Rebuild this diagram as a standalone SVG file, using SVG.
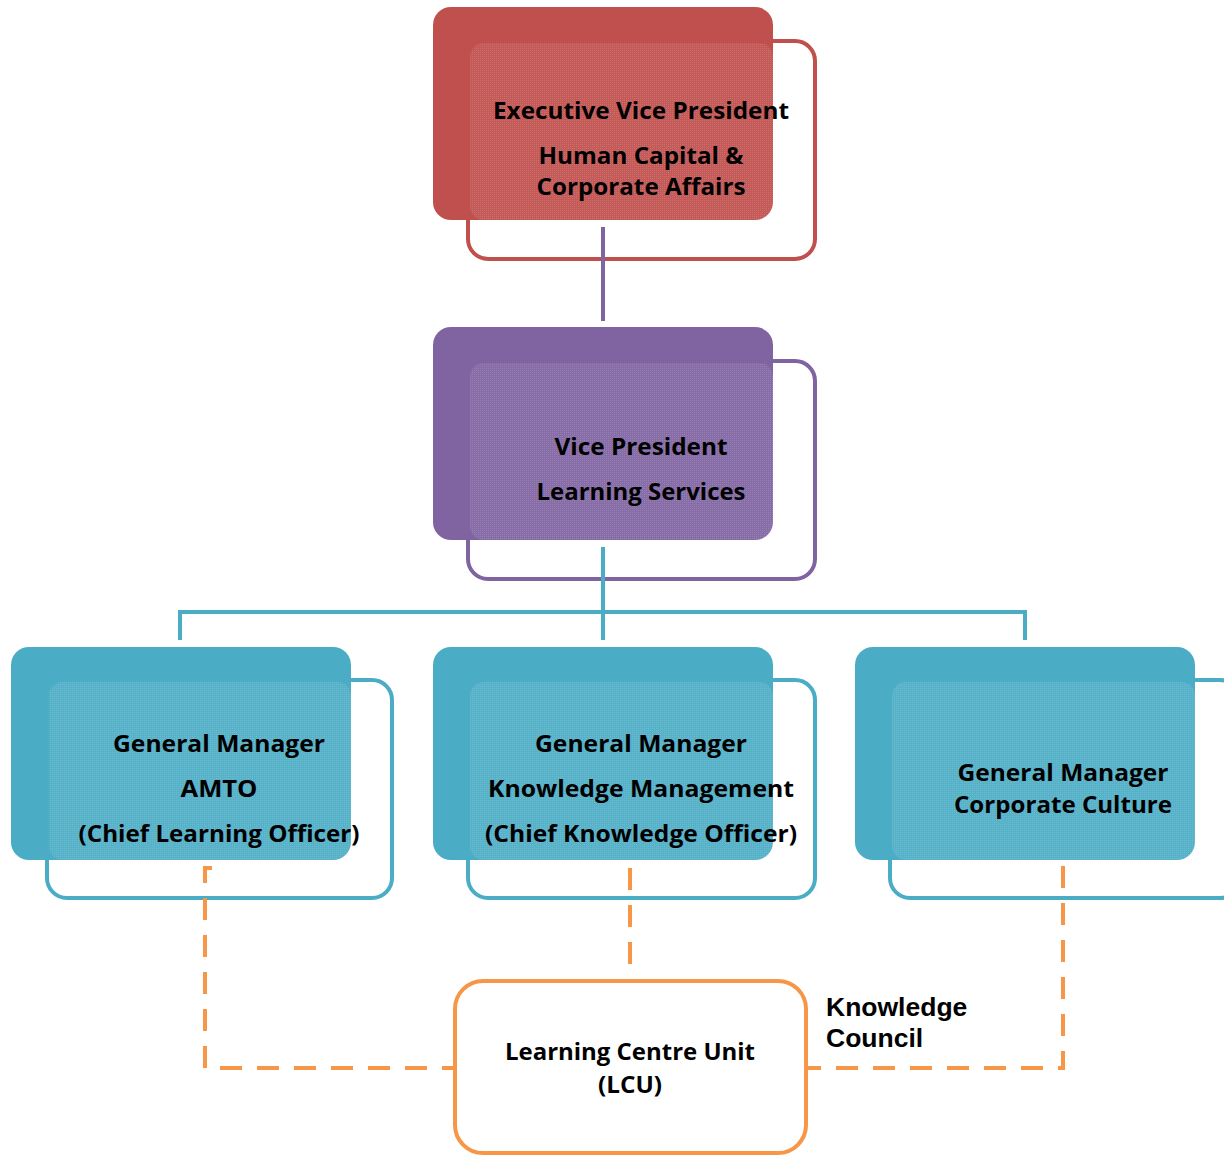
<svg xmlns="http://www.w3.org/2000/svg" width="1224" height="1156" viewBox="0 0 1224 1156">
  <defs>
    <!-- fine dotted sheen used where the two frames of a card overlap -->
    <pattern id="sheen" width="2" height="2" patternUnits="userSpaceOnUse">
      <rect x="0" y="0" width="2" height="2" fill="#ffffff" fill-opacity="0.06"/>
      <rect x="0" y="0" width="1" height="1" fill="#ffffff" fill-opacity="0.12"/>
    </pattern>
  </defs>
  <style>
    .lbl { font-family: "Open Sans", "Liberation Sans", sans-serif; font-weight: bold; font-size: 23px; fill: #000; text-anchor: middle; }
    .note { font-family: "Liberation Sans", Arial, sans-serif; font-weight: bold; font-size: 26.5px; fill: #000; }
    .frame { fill: #ffffff; stroke-width: 4; }
    .sheen { fill: url(#sheen); }
    .red .frame { stroke: #C0504D; } .red .body { fill: #C0504D; }
    .purple .frame { stroke: #8064A2; } .purple .body { fill: #8064A2; }
    .teal .frame { stroke: #4BACC6; } .teal .body { fill: #4BACC6; }
    .solid { fill: none; stroke-width: 4; }
    .dash { fill: none; stroke: #F79646; stroke-width: 4; stroke-dasharray: 22 15; }
  </style>

  <!-- Executive Vice President -->
  <g id="evp" class="red">
    <rect class="frame" x="468" y="41" width="347" height="218" rx="20"/>
    <rect class="body" x="433" y="7" width="340" height="213" rx="18"/>
    <rect class="sheen" x="470" y="43" width="303" height="177" rx="14"/>
    <text class="lbl" x="641" y="119" textLength="296" lengthAdjust="spacingAndGlyphs">Executive Vice President</text>
    <text class="lbl" x="641" y="164" textLength="205" lengthAdjust="spacingAndGlyphs">Human Capital &amp;</text>
    <text class="lbl" x="641" y="195" textLength="209" lengthAdjust="spacingAndGlyphs">Corporate Affairs</text>
  </g>

  <!-- Vice President Learning Services -->
  <g id="vp" class="purple">
    <rect class="frame" x="468" y="361" width="347" height="218" rx="20"/>
    <rect class="body" x="433" y="327" width="340" height="213" rx="18"/>
    <rect class="sheen" x="470" y="363" width="303" height="177" rx="14"/>
    <text class="lbl" x="641" y="455" textLength="173" lengthAdjust="spacingAndGlyphs">Vice President</text>
    <text class="lbl" x="641" y="500" textLength="209" lengthAdjust="spacingAndGlyphs">Learning Services</text>
  </g>

  <!-- General Manager AMTO -->
  <g id="gm-amto" class="teal">
    <rect class="frame" x="47" y="680" width="345" height="218" rx="20"/>
    <rect class="body" x="11" y="647" width="340" height="213" rx="18"/>
    <rect class="sheen" x="49" y="682" width="302" height="178" rx="14"/>
    <text class="lbl" x="219" y="752" textLength="212" lengthAdjust="spacingAndGlyphs">General Manager</text>
    <text class="lbl" x="219" y="797" textLength="77" lengthAdjust="spacingAndGlyphs">AMTO</text>
    <text class="lbl" x="219" y="842" textLength="281" lengthAdjust="spacingAndGlyphs">(Chief Learning Officer)</text>
  </g>

  <!-- General Manager Knowledge Management -->
  <g id="gm-km" class="teal">
    <rect class="frame" x="468" y="680" width="347" height="218" rx="20"/>
    <rect class="body" x="433" y="647" width="340" height="213" rx="18"/>
    <rect class="sheen" x="470" y="682" width="303" height="178" rx="14"/>
    <text class="lbl" x="641" y="752" textLength="212" lengthAdjust="spacingAndGlyphs">General Manager</text>
    <text class="lbl" x="641" y="797" textLength="306" lengthAdjust="spacingAndGlyphs">Knowledge Management</text>
    <text class="lbl" x="641" y="842" textLength="312" lengthAdjust="spacingAndGlyphs">(Chief Knowledge Officer)</text>
  </g>

  <!-- General Manager Corporate Culture -->
  <g id="gm-cc" class="teal">
    <rect class="frame" x="890" y="680" width="350" height="218" rx="20"/>
    <rect class="body" x="855" y="647" width="340" height="213" rx="18"/>
    <rect class="sheen" x="892" y="682" width="303" height="178" rx="14"/>
    <text class="lbl" x="1063" y="781" textLength="211" lengthAdjust="spacingAndGlyphs">General Manager</text>
    <text class="lbl" x="1063" y="813" textLength="218" lengthAdjust="spacingAndGlyphs">Corporate Culture</text>
  </g>

  <!-- Learning Centre Unit -->
  <g id="lcu">
    <rect x="455" y="981" width="351" height="172" rx="28" fill="#ffffff" stroke="#F79646" stroke-width="4"/>
    <text class="lbl" x="630" y="1060" textLength="250" lengthAdjust="spacingAndGlyphs">Learning Centre Unit</text>
    <text class="lbl" x="630" y="1093" textLength="64" lengthAdjust="spacingAndGlyphs">(LCU)</text>
  </g>

  <!-- Knowledge Council label -->
  <g id="knowledge-council">
    <text class="note" x="826" y="1016">Knowledge</text>
    <text class="note" x="826" y="1047">Council</text>
  </g>

  <!-- connectors, drawn last so they run over the open frames -->
  <g id="connectors">
    <line class="solid" x1="603" y1="227" x2="603" y2="321" stroke="#8064A2"/>
    <path class="solid" d="M603,547 V612 M180,640 V612 H1025 V640 M603,612 V640" stroke="#4BACC6"/>
    <path class="dash" d="M212,868 H205 V1068 H455"/>
    <path class="dash" d="M630,868 V965"/>
    <path class="dash" d="M1063,866 V1068 H806"/>
  </g>
</svg>
